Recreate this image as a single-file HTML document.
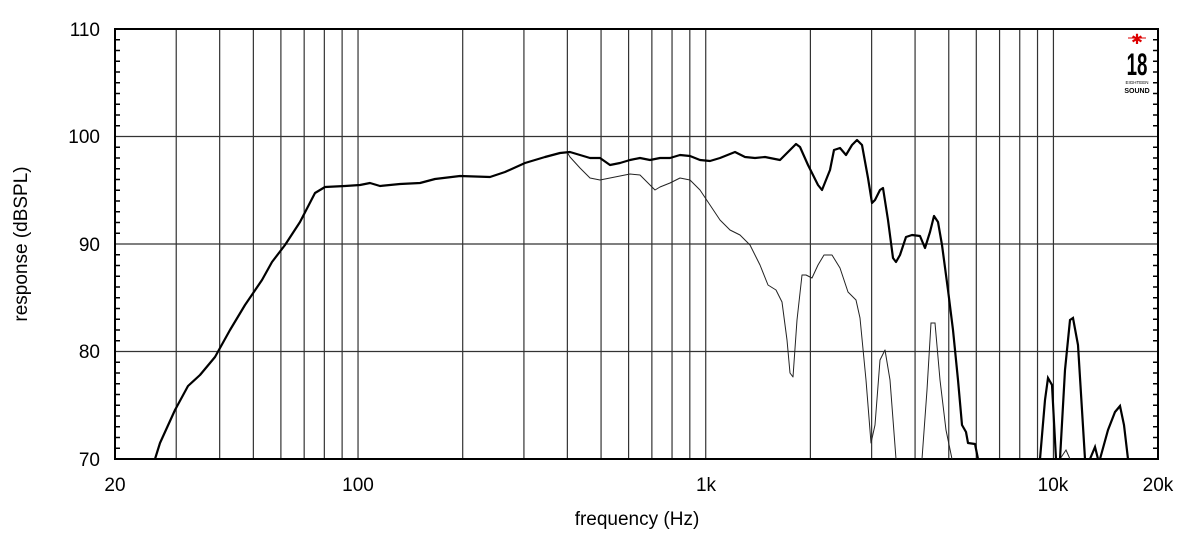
<!DOCTYPE html>
<html><head><meta charset="utf-8"><style>
html,body{margin:0;padding:0;background:#fff;}
svg{display:block;font-family:"Liberation Sans",sans-serif;}
</style></head><body>
<svg width="1200" height="533" viewBox="0 0 1200 533" xmlns="http://www.w3.org/2000/svg">
<rect width="1200" height="533" fill="#fff"/>
<g id="grid" stroke="#333" stroke-width="1.2" fill="none"></g>
<g id="ticks" stroke="#000" stroke-width="1.5"></g>
<rect x="115" y="29" width="1043" height="430" fill="none" stroke="#000" stroke-width="2"/>
<polyline fill="none" stroke="#222" stroke-width="1" stroke-linejoin="round" points="567,152 570,157 580,168 590,178 600,180 610,178 620,176 630,174 640,175 650,185 655,190 660,187 670,183 680,178 690,180 700,190 710,205 720,220 730,230 740,235 750,245 760,265 768,285 776,290 782,302 787,340 790,373 793,377 797,320 802,275 806,275 812,278 818,265 824,255 832,255 840,268 848,292 856,300 860,318 866,380 871,443 875,425 880,360 885,350 890,380 896,459"/>
<polyline fill="none" stroke="#222" stroke-width="1" points="922,459 927,390 931,323 935,323 940,380 946,430 952,459"/>
<polyline fill="none" stroke="#222" stroke-width="1" points="1060,459 1066,450 1070,459"/>
<polyline fill="none" stroke="#000" stroke-width="2.2" stroke-linejoin="round" points="155,459 160,443 175,410 188,386 200,375 215,357 230,330 245,305 262,280 272,262 285,245 300,222 315,193 325,187 345,186 360,185 370,183 380,186 400,184 420,183 435,179 460,176 490,177 505,172 525,163 545,157 560,153 570,152 580,155 590,158 600,158 610,165 620,163 630,160 640,158 650,160 660,158 670,158 680,155 690,156 700,160 710,161 720,158 735,152 745,157 755,158 765,157 780,160 790,150 796,144 800,147 808,165 818,185 822,190 830,170 834,150 840,148 846,155 852,145 857,140 862,145 868,178 872,203 875,200 880,190 883,188 888,220 893,258 896,262 900,255 906,237 912,235 920,236 925,248 930,232 934,216 938,222 942,245 948,290 953,330 958,380 962,425 966,432 968,443 975,444 978,459"/>
<polyline fill="none" stroke="#000" stroke-width="2.2" points="1040,459 1045,400 1048,378 1052,385 1056,459"/>
<polyline fill="none" stroke="#000" stroke-width="2.2" points="1060,459 1065,370 1070,320 1073,318 1078,345 1085,459"/>
<polyline fill="none" stroke="#000" stroke-width="2.2" points="1090,459 1095,447 1098,459"/>
<polyline fill="none" stroke="#000" stroke-width="2.2" points="1100,459 1108,430 1115,412 1120,406 1124,425 1128,459"/>
<g font-size="19" fill="#000" text-anchor="end">
<text x="100" y="36">110</text><text x="100" y="143">100</text><text x="100" y="251">90</text><text x="100" y="358">80</text><text x="100" y="466">70</text>
</g>
<g font-size="19" fill="#000" text-anchor="middle">
<text x="115" y="491">20</text><text x="358" y="491">100</text><text x="706" y="491">1k</text><text x="1053" y="491">10k</text><text x="1158" y="491">20k</text>
<text x="637" y="525">frequency (Hz)</text>
<text transform="translate(27,244) rotate(-90)">response (dBSPL)</text>
</g>
<g>
<line x1="1128" y1="38" x2="1146" y2="38" stroke="#d00" stroke-width="1"/>
<text x="1137" y="44" font-size="14" fill="#d00" text-anchor="middle">✱</text>
<text transform="translate(1137,75) scale(0.85,1.45)" font-size="22" font-weight="bold" fill="#000" text-anchor="middle">18</text>
<text x="1137" y="84" font-size="4.5" fill="#000" text-anchor="middle">EIGHTEEN</text>
<text x="1137" y="93" font-size="7" font-weight="bold" fill="#000" text-anchor="middle">SOUND</text>
</g>
<script>
var g=document.getElementById('grid'),t=document.getElementById('ticks'),ns='http://www.w3.org/2000/svg';
function L(p,x1,y1,x2,y2){var l=document.createElementNS(ns,'line');l.setAttribute('x1',x1);l.setAttribute('y1',y1);l.setAttribute('x2',x2);l.setAttribute('y2',y2);p.appendChild(l);}
function X(f){return 115+347.7*Math.log10(f/20);}
var fs=[30,40,50,60,70,80,90,100,200,300,400,500,600,700,800,900,1000,2000,3000,4000,5000,6000,7000,8000,9000,10000];
fs.forEach(function(f){var x=X(f);L(g,x,29,x,459);});
[100,90,80].forEach(function(d){var y=29+(110-d)*10.75;L(g,115,y,1158,y);});
for(var d=71;d<110;d++){if(d%10==0)continue;var y=29+(110-d)*10.75;L(t,115,y,120,y);L(t,1153,y,1158,y);}
</script>
</svg>
</body></html>
